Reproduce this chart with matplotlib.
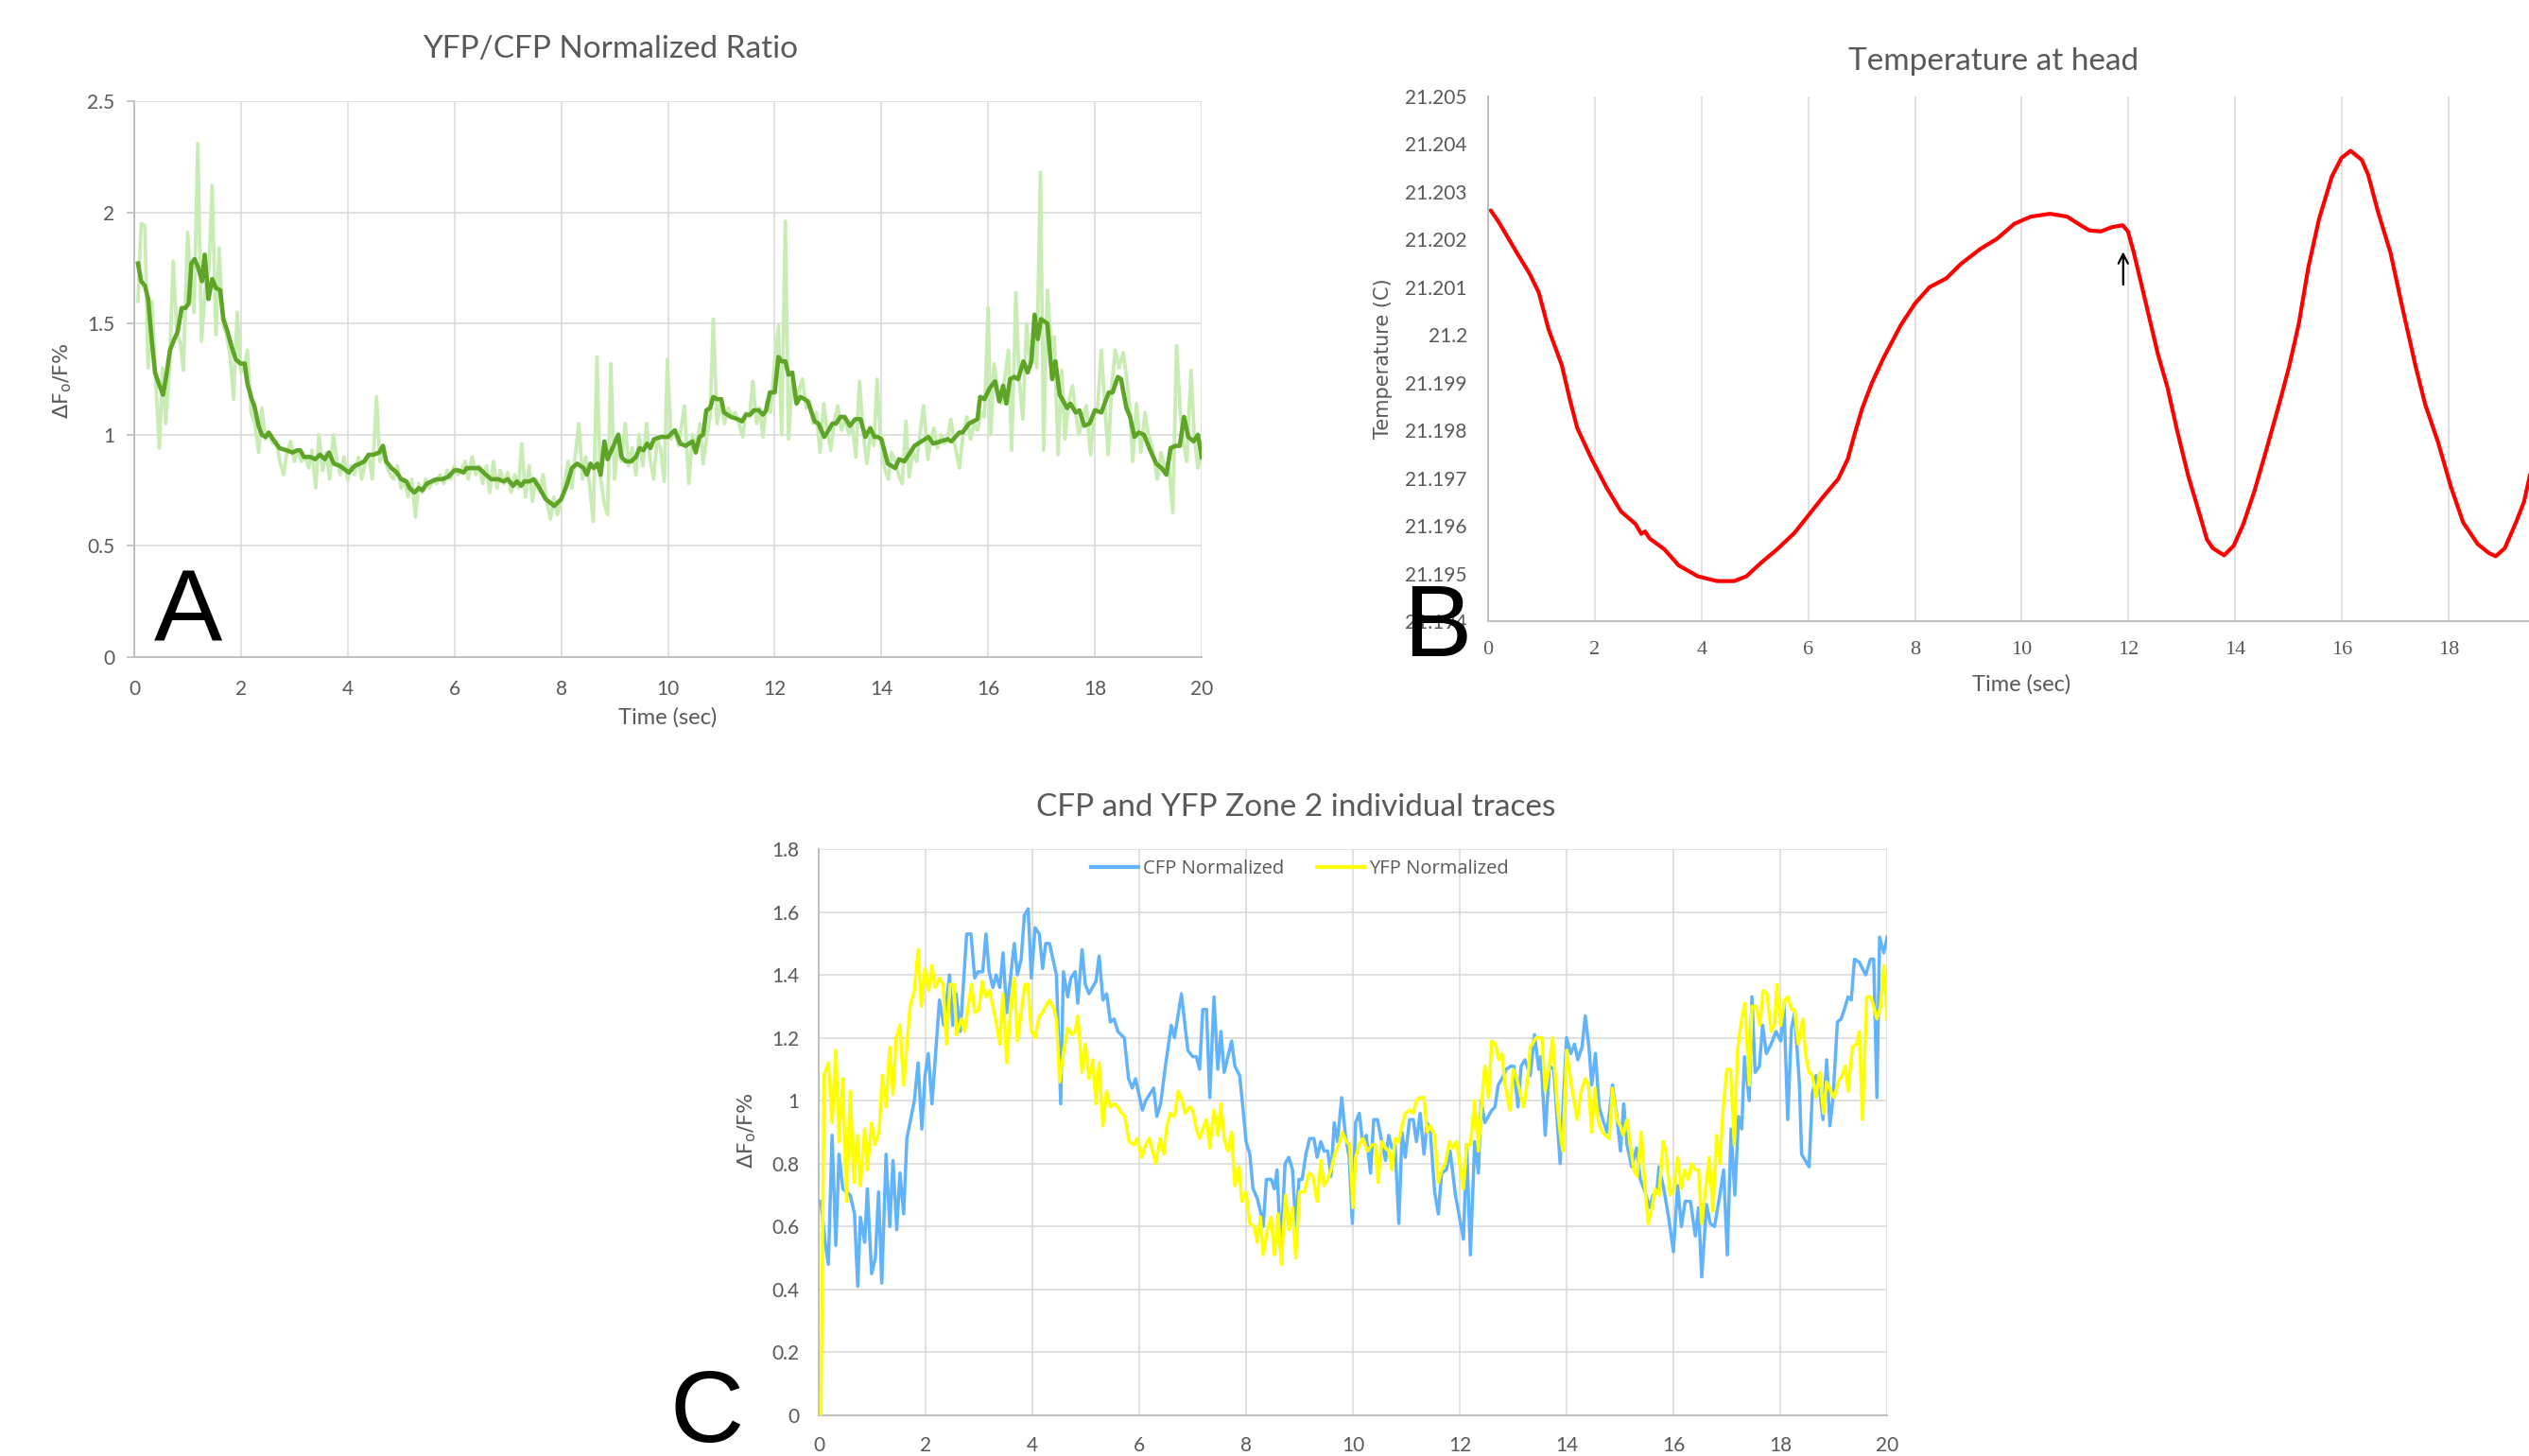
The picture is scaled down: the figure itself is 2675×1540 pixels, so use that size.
import matplotlib
matplotlib.use('Agg')
import matplotlib.pyplot as plt
from matplotlib.lines import Line2D

# ---------------- DATA ----------------
# Panel A: YFP/CFP normalized ratio (raw light trace and smoothed trace)
a_raw_t = [0.07,0.13,0.20,0.26,0.33,0.40,0.47,0.53,0.59,0.66,0.73,0.80,0.86,0.92,1.00,1.06,1.12,1.19,1.26,1.33,
           1.40,1.46,1.53,1.59,1.66,1.73,1.80,1.86,1.93,2.00,2.06,2.12,2.19,2.26,2.33,2.39,2.46,2.53,2.60,2.66,
           2.73,2.80,2.86,2.93,3.00,3.06,3.13,3.20,3.27,3.33,3.40,3.46,3.53,3.60,3.66,3.73,3.80,3.86,3.93,4.00,
           4.06,4.13,4.20,4.26,4.33,4.40,4.46,4.54,4.60,4.66,4.73,4.80,4.86,4.93,5.00,5.06,5.13,5.20,5.27,5.33,
           5.40,5.46,5.53,5.60,5.66,5.73,5.80,5.86,5.93,6.00,6.06,6.13,6.20,6.26,6.33,6.40,6.46,6.53,6.60,6.66,
           6.73,6.80,6.86,6.93,7.00,7.06,7.13,7.20,7.26,7.33,7.40,7.46,7.53,7.60,7.66,7.73,7.80,7.86,7.93,8.00,
           8.06,8.13,8.20,8.27,8.33,8.40,8.46,8.53,8.60,8.67,8.73,8.80,8.87,8.93,9.00,9.06,9.13,9.20,9.26,9.33,
           9.40,9.46,9.53,9.60,9.66,9.73,9.80,9.86,9.93,9.99,10.06,10.13,10.20,10.26,10.31,10.39,10.46,10.53,10.60,10.66,
           10.73,10.79,10.85,10.92,10.99,11.06,11.13,11.20,11.26,11.33,11.40,11.46,11.53,11.59,11.66,11.72,11.78,11.85,11.92,11.99,
           12.07,12.13,12.20,12.26,12.33,12.39,12.46,12.52,12.59,12.65,12.72,12.78,12.85,12.92,12.98,13.05,13.11,13.18,13.25,13.32,
           13.39,13.45,13.52,13.59,13.66,13.73,13.79,13.86,13.92,13.99,14.06,14.13,14.19,14.26,14.32,14.39,14.46,14.52,14.59,14.66,
           14.72,14.79,14.87,14.93,14.98,15.05,15.12,15.18,15.24,15.30,15.38,15.46,15.53,15.60,15.67,15.74,15.80,15.87,15.93,16.00,
           16.05,16.11,16.18,16.25,16.31,16.38,16.44,16.52,16.58,16.65,16.72,16.79,16.85,16.91,16.98,17.04,17.11,17.18,17.24,17.31,
           17.38,17.44,17.51,17.58,17.64,17.70,17.77,17.84,17.92,17.99,18.05,18.12,18.18,18.25,18.31,18.38,18.45,18.53,18.60,18.66,
           18.71,18.78,18.86,18.94,19.00,19.07,19.17,19.24,19.31,19.38,19.46,19.53,19.60,19.66,19.72,19.80,19.86,19.93,20.00]
a_raw_v = [1.60,1.95,1.94,1.30,1.60,1.25,0.94,1.30,1.05,1.30,1.78,1.45,1.42,1.29,1.91,1.70,1.55,2.31,1.42,1.65,
           1.75,2.12,1.45,1.84,1.50,1.45,1.35,1.16,1.55,1.28,1.30,1.38,1.10,1.05,0.92,1.12,0.98,1.00,0.96,0.97,
           0.88,0.82,0.92,0.97,0.88,0.93,0.88,0.90,0.85,0.93,0.76,1.00,0.84,0.92,0.80,1.00,0.88,0.82,0.90,0.80,
           0.86,0.82,0.90,0.80,0.88,0.90,0.80,1.17,0.88,0.92,0.86,0.82,0.80,0.86,0.76,0.80,0.72,0.80,0.63,0.78,
           0.74,0.80,0.76,0.80,0.78,0.82,0.78,0.84,0.80,0.86,0.82,0.84,0.88,0.80,0.90,0.82,0.86,0.78,0.86,0.74,
           0.88,0.76,0.84,0.78,0.83,0.74,0.82,0.76,0.96,0.72,0.86,0.70,0.80,0.74,0.82,0.70,0.62,0.72,0.64,0.72,
           0.78,0.88,0.76,0.92,1.05,0.80,0.90,0.78,0.61,1.35,0.82,0.70,0.64,1.32,0.80,0.96,0.88,1.05,0.86,0.94,
           0.82,1.00,0.86,1.05,0.90,0.80,0.98,0.94,0.79,1.34,0.98,1.02,0.95,1.05,1.13,0.78,1.00,0.94,1.05,0.87,
           1.00,1.08,1.52,1.05,1.15,1.05,1.12,1.08,1.10,1.05,0.99,1.10,1.08,1.24,1.05,1.12,0.99,1.15,1.10,1.30,
           1.49,1.00,1.96,0.98,1.25,1.15,1.20,1.25,1.12,1.15,1.05,1.10,0.92,1.14,1.02,0.93,1.05,1.13,1.02,1.08,
           1.00,1.05,0.90,1.24,1.00,0.87,1.00,0.95,1.25,0.96,0.85,0.80,0.92,0.88,0.82,0.78,1.06,0.81,0.92,0.88,
           1.00,1.13,0.89,0.98,1.03,0.94,1.00,0.96,0.98,1.07,0.95,0.85,1.00,1.08,0.98,1.05,1.02,1.10,1.08,1.57,
           1.00,1.32,1.20,1.14,1.25,1.38,0.93,1.64,1.25,1.07,1.50,1.30,1.42,1.30,2.18,0.93,1.65,1.40,1.44,0.91,
           1.29,0.98,1.15,1.22,1.10,1.00,1.08,1.13,0.91,1.10,1.12,1.38,1.15,0.91,1.20,1.38,1.30,1.37,1.25,1.10,
           0.88,1.14,0.92,1.10,1.00,0.95,0.80,0.92,0.85,0.88,0.65,1.40,1.10,0.96,0.88,1.29,1.00,0.85,0.92]

a_smooth_t = [0.07,0.13,0.20,0.26,0.33,0.39,0.46,0.54,0.59,0.67,0.75,0.81,0.89,0.96,1.02,1.07,1.13,1.20,1.27,1.32,
              1.39,1.46,1.53,1.61,1.67,1.74,1.82,1.90,1.99,2.07,2.12,2.20,2.25,2.33,2.39,2.46,2.52,2.60,2.72,2.85,
              2.97,3.05,3.11,3.18,3.30,3.39,3.48,3.57,3.65,3.74,3.85,3.91,4.02,4.13,4.23,4.31,4.39,4.48,4.59,4.66,
              4.72,4.82,4.92,5.00,5.10,5.16,5.25,5.33,5.40,5.48,5.57,5.67,5.77,5.88,6.00,6.07,6.17,6.23,6.33,6.46,
              6.59,6.69,6.82,6.92,7.00,7.10,7.17,7.25,7.31,7.41,7.48,7.57,7.71,7.87,8.00,8.10,8.20,8.30,8.42,8.48,
              8.55,8.61,8.68,8.74,8.81,8.87,9.07,9.13,9.21,9.31,9.40,9.47,9.54,9.61,9.67,9.74,9.87,10.00,10.13,10.23,
              10.33,10.46,10.52,10.59,10.66,10.72,10.79,10.85,10.92,11.00,11.05,11.18,11.31,11.39,11.46,11.54,11.61,11.70,11.78,11.84,
              11.91,12.00,12.07,12.13,12.20,12.26,12.33,12.41,12.48,12.56,12.62,12.75,12.82,12.93,13.01,13.08,13.15,13.23,13.31,13.41,
              13.51,13.61,13.70,13.79,13.87,13.93,14.00,14.12,14.26,14.33,14.43,14.54,14.62,14.75,14.88,14.97,15.11,15.24,15.31,15.46,
              15.52,15.64,15.72,15.80,15.85,15.93,16.03,16.13,16.21,16.28,16.34,16.41,16.49,16.56,16.66,16.74,16.81,16.87,16.93,16.99,
              17.11,17.20,17.26,17.34,17.48,17.54,17.64,17.71,17.80,17.90,18.00,18.12,18.26,18.33,18.43,18.49,18.59,18.66,18.74,18.82,
              18.92,19.02,19.15,19.25,19.34,19.42,19.51,19.59,19.67,19.75,19.85,19.93,20.00]
a_smooth_v = [1.77,1.69,1.67,1.61,1.42,1.28,1.23,1.18,1.25,1.38,1.43,1.46,1.57,1.57,1.59,1.77,1.79,1.75,1.69,1.81,
              1.61,1.70,1.66,1.65,1.52,1.47,1.40,1.34,1.32,1.32,1.23,1.16,1.13,1.04,1.00,0.99,1.01,0.98,0.94,0.93,
              0.92,0.93,0.93,0.90,0.90,0.89,0.91,0.89,0.92,0.87,0.86,0.85,0.83,0.86,0.87,0.88,0.91,0.91,0.92,0.95,
              0.88,0.85,0.83,0.80,0.79,0.76,0.74,0.76,0.75,0.78,0.79,0.80,0.80,0.81,0.84,0.84,0.83,0.85,0.85,0.85,
              0.82,0.80,0.80,0.79,0.80,0.77,0.79,0.77,0.79,0.79,0.80,0.77,0.71,0.68,0.71,0.77,0.85,0.87,0.85,0.82,
              0.87,0.85,0.87,0.82,0.97,0.89,1.00,0.90,0.88,0.88,0.90,0.94,0.93,0.96,0.94,0.98,0.99,0.99,1.02,0.96,
              0.95,0.97,0.92,0.99,1.00,1.11,1.12,1.17,1.16,1.16,1.10,1.08,1.07,1.06,1.09,1.09,1.11,1.11,1.09,1.11,
              1.19,1.19,1.35,1.33,1.33,1.27,1.28,1.14,1.17,1.16,1.15,1.06,1.05,0.99,1.02,1.05,1.05,1.08,1.08,1.04,
              1.07,1.07,0.99,1.03,0.99,0.99,0.98,0.87,0.85,0.89,0.88,0.92,0.95,0.97,0.99,0.96,0.97,0.98,0.97,1.01,
              1.01,1.05,1.06,1.07,1.17,1.16,1.21,1.24,1.15,1.22,1.14,1.25,1.26,1.25,1.33,1.28,1.33,1.54,1.43,1.52,
              1.50,1.25,1.33,1.18,1.12,1.14,1.10,1.11,1.04,1.05,1.11,1.10,1.19,1.19,1.26,1.25,1.12,1.08,0.99,1.01,
              1.00,0.94,0.87,0.85,0.82,0.94,0.95,0.95,1.08,0.99,0.97,1.00,0.90]

# Panel B: temperature at head
b_t = [0.05,0.18,0.32,0.54,0.77,0.95,1.13,1.38,1.54,1.67,1.94,2.22,2.49,2.76,2.87,2.94,3.03,3.30,3.57,3.93,
       4.29,4.61,4.84,5.11,5.42,5.74,6.01,6.28,6.56,6.74,6.87,7.01,7.19,7.41,7.73,8.00,8.27,8.59,8.86,9.22,
       9.54,9.86,10.17,10.53,10.85,11.10,11.27,11.48,11.69,11.89,11.99,12.10,12.25,12.40,12.55,12.73,12.91,13.12,13.33,13.47,
       13.58,13.79,13.97,14.15,14.36,14.60,14.83,15.01,15.19,15.37,15.57,15.81,15.99,16.16,16.37,16.49,16.67,16.91,17.14,17.38,
       17.56,17.80,18.04,18.27,18.54,18.75,18.88,19.05,19.26,19.41,19.50,19.60]
b_temp = [21.20261,21.20240,21.20214,21.20172,21.20130,21.20089,21.20013,21.19937,21.19861,21.19805,
          21.19740,21.19680,21.19630,21.19604,21.19583,21.19588,21.19573,21.19551,21.19517,21.19494,
          21.19484,21.19484,21.19494,21.19522,21.19551,21.19585,21.19623,21.19661,21.19698,21.19740,
          21.19793,21.19846,21.19899,21.19952,21.20020,21.20066,21.20100,21.20119,21.20149,21.20180,
          21.20202,21.20233,21.20248,21.20254,21.20248,21.20230,21.20219,21.20217,21.20226,21.20230,
          21.20217,21.20172,21.20102,21.20031,21.19960,21.19890,21.19800,21.19704,21.19625,21.19571,
          21.19553,21.19538,21.19558,21.19603,21.19673,21.19766,21.19858,21.19934,21.20023,21.20142,
          21.20243,21.20332,21.20371,21.20386,21.20367,21.20336,21.20260,21.20172,21.20053,21.19934,
          21.19854,21.19775,21.19682,21.19607,21.19562,21.19543,21.19536,21.19553,21.19607,21.19650,
          21.19695,21.19750]
b_xticks = [0, 2, 4, 6, 8, 10, 12, 14, 16, 18]
b_ticks = [21.194,21.195,21.196,21.197,21.198,21.199,21.2,21.201,21.202,21.203,21.204,21.205]
b_ticklabels = ['21.194','21.195','21.196','21.197','21.198','21.199','21.2','21.201','21.202','21.203','21.204','21.205']
b_arrow_t = 11.9
b_arrow_from = 21.2010
b_arrow_to = 21.2018

# Panel C: CFP and YFP zone 2 individual traces
c_cfp_t = [0.04,0.12,0.18,0.25,0.32,0.38,0.45,0.59,0.67,0.73,0.78,0.86,0.91,0.99,1.06,1.12,1.18,1.26,1.33,1.39,
           1.46,1.52,1.59,1.65,1.79,1.86,1.93,1.99,2.05,2.12,2.18,2.26,2.34,2.45,2.51,2.57,2.65,2.77,2.85,2.92,
           2.98,3.07,3.13,3.19,3.26,3.32,3.39,3.45,3.52,3.66,3.72,3.79,3.85,3.92,3.98,4.05,4.13,4.19,4.25,4.32,
           4.45,4.53,4.58,4.66,4.72,4.80,4.85,4.93,4.99,5.06,5.19,5.25,5.32,5.39,5.46,5.53,5.60,5.72,5.80,5.87,
           5.93,6.06,6.12,6.27,6.33,6.40,6.49,6.60,6.66,6.79,6.91,7.00,7.07,7.13,7.19,7.26,7.32,7.40,7.47,7.53,
           7.59,7.73,7.79,7.88,7.94,8.00,8.07,8.13,8.21,8.28,8.32,8.38,8.47,8.53,8.58,8.65,8.73,8.80,8.87,8.93,
           8.99,9.05,9.12,9.19,9.27,9.33,9.40,9.46,9.53,9.59,9.65,9.71,9.79,9.86,9.93,9.99,10.05,10.12,10.18,10.25,
           10.33,10.39,10.46,10.54,10.61,10.67,10.73,10.79,10.86,10.92,10.98,11.06,11.13,11.19,11.26,11.33,11.39,11.45,11.53,11.60,
           11.66,11.75,11.82,11.92,12.07,12.13,12.20,12.28,12.35,12.40,12.47,12.60,12.66,12.72,12.79,12.87,12.96,13.01,13.09,13.15,
           13.22,13.32,13.40,13.48,13.52,13.60,13.68,13.76,13.88,14.00,14.08,14.15,14.21,14.29,14.35,14.42,14.47,14.54,14.61,14.68,
           14.76,14.86,14.94,15.01,15.07,15.13,15.22,15.31,15.38,15.47,15.55,15.62,15.69,15.73,15.82,15.91,16.00,16.08,16.15,16.22,
           16.32,16.41,16.47,16.53,16.62,16.69,16.77,16.86,16.94,17.01,17.08,17.15,17.22,17.28,17.33,17.42,17.47,17.53,17.61,17.67,
           17.74,17.83,17.92,18.01,18.07,18.14,18.21,18.27,18.36,18.40,18.54,18.60,18.67,18.75,18.80,18.87,18.93,18.99,19.07,19.14,
           19.20,19.27,19.33,19.39,19.48,19.60,19.69,19.75,19.81,19.86,19.94,20.00]
c_cfp_v = [0.68,0.55,0.48,0.89,0.54,0.83,0.72,0.70,0.64,0.41,0.63,0.55,0.72,0.45,0.50,0.71,0.42,0.83,0.60,0.81,
           0.59,0.77,0.64,0.88,1.00,1.12,0.91,1.08,1.15,0.99,1.13,1.32,1.24,1.40,1.24,1.34,1.22,1.53,1.53,1.39,
           1.41,1.41,1.53,1.41,1.36,1.40,1.36,1.47,1.28,1.50,1.40,1.45,1.59,1.61,1.39,1.55,1.53,1.42,1.50,1.50,
           1.40,0.99,1.41,1.33,1.39,1.41,1.31,1.48,1.37,1.34,1.38,1.46,1.32,1.34,1.25,1.26,1.22,1.20,1.07,1.04,
           1.07,0.97,1.00,1.04,0.95,0.99,1.11,1.24,1.20,1.34,1.16,1.14,1.14,1.10,1.29,1.29,1.01,1.33,1.10,1.22,
           1.09,1.19,1.11,1.08,0.98,0.87,0.83,0.72,0.69,0.64,0.60,0.75,0.75,0.72,0.78,0.52,0.80,0.82,0.78,0.60,
           0.75,0.75,0.83,0.88,0.88,0.82,0.87,0.84,0.84,0.76,0.93,0.87,1.01,0.89,0.82,0.61,0.93,0.96,0.87,0.89,
           0.77,0.94,0.94,0.87,0.81,0.89,0.85,0.86,0.61,0.90,0.82,0.94,0.94,0.87,0.96,0.83,0.93,0.90,0.71,0.64,
           0.77,0.78,0.84,0.70,0.56,0.86,0.51,0.87,0.77,1.00,0.93,0.97,0.98,1.05,1.07,1.10,1.11,1.11,0.98,1.11,
           1.13,1.08,1.21,1.10,1.14,0.89,1.11,1.10,0.80,1.20,1.15,1.18,1.13,1.17,1.27,1.17,1.05,1.15,0.98,0.94,
           0.90,1.05,0.95,0.84,0.99,0.86,0.79,0.85,0.75,0.71,0.66,0.70,0.71,0.79,0.72,0.63,0.52,0.73,0.60,0.68,
           0.68,0.57,0.66,0.44,0.67,0.61,0.60,0.69,0.78,0.51,0.91,0.70,0.95,0.91,1.14,1.00,1.33,1.09,1.11,1.24,
           1.15,1.18,1.22,1.19,1.31,0.94,1.23,1.28,1.05,0.83,0.79,1.02,1.08,1.02,0.94,1.13,0.92,1.01,1.25,1.26,
           1.29,1.33,1.32,1.45,1.44,1.40,1.45,1.45,1.01,1.52,1.47,1.52]

c_yfp_t = [0.04,0.10,0.18,0.25,0.32,0.38,0.45,0.52,0.59,0.66,0.72,0.78,0.86,0.91,0.99,1.05,1.13,1.19,1.26,1.33,
           1.39,1.45,1.52,1.59,1.71,1.79,1.86,1.92,1.99,2.06,2.12,2.18,2.26,2.33,2.39,2.46,2.53,2.58,2.67,2.73,
           2.86,2.92,3.00,3.06,3.13,3.20,3.32,3.39,3.45,3.52,3.60,3.66,3.72,3.79,3.86,3.92,3.98,4.05,4.13,4.19,
           4.25,4.32,4.41,4.45,4.51,4.58,4.66,4.74,4.80,4.85,4.93,4.99,5.06,5.13,5.19,5.25,5.32,5.39,5.46,5.53,
           5.60,5.67,5.73,5.81,5.90,5.96,6.05,6.12,6.19,6.25,6.31,6.39,6.46,6.52,6.58,6.66,6.73,6.79,6.86,6.94,
           7.00,7.07,7.13,7.19,7.26,7.32,7.40,7.47,7.53,7.59,7.66,7.73,7.79,7.87,7.92,8.00,8.07,8.15,8.21,8.27,
           8.32,8.40,8.47,8.53,8.60,8.66,8.74,8.80,8.87,8.93,9.00,9.09,9.18,9.25,9.33,9.40,9.46,9.53,9.59,9.66,
           9.74,9.80,9.88,9.94,10.00,10.05,10.12,10.19,10.27,10.36,10.42,10.47,10.54,10.61,10.67,10.73,10.79,10.86,10.92,10.98,
           11.06,11.13,11.19,11.26,11.33,11.39,11.45,11.53,11.60,11.66,11.73,11.81,11.87,11.94,12.01,12.07,12.13,12.20,12.28,12.35,
           12.41,12.47,12.54,12.60,12.67,12.73,12.79,12.85,12.94,13.00,13.07,13.15,13.20,13.28,13.32,13.43,13.54,13.60,13.67,13.74,
           13.82,13.88,13.93,14.00,14.08,14.20,14.27,14.35,14.41,14.47,14.53,14.60,14.67,14.73,14.80,14.86,14.94,15.01,15.06,15.13,
           15.20,15.26,15.32,15.40,15.47,15.53,15.60,15.66,15.73,15.81,15.86,15.94,16.01,16.08,16.15,16.21,16.28,16.34,16.41,16.47,
           16.53,16.59,16.67,16.74,16.81,16.87,16.93,17.00,17.07,17.14,17.20,17.27,17.34,17.42,17.47,17.55,17.62,17.68,17.75,17.83,
           17.89,17.94,18.01,18.08,18.14,18.21,18.27,18.34,18.42,18.48,18.54,18.60,18.67,18.74,18.81,18.87,18.95,19.01,19.09,19.16,
           19.22,19.27,19.35,19.43,19.48,19.54,19.62,19.69,19.75,19.81,19.88,19.94,20.00]
c_yfp_v = [0.00,1.08,1.12,0.93,1.16,0.87,1.07,0.68,1.03,0.74,0.89,0.73,0.91,0.78,0.93,0.86,0.90,1.08,0.98,1.17,
           1.02,1.20,1.24,1.05,1.30,1.35,1.48,1.30,1.42,1.35,1.43,1.36,1.39,1.37,1.18,1.37,1.37,1.21,1.26,1.22,
           1.37,1.28,1.29,1.38,1.33,1.35,1.25,1.18,1.34,1.12,1.31,1.39,1.19,1.28,1.37,1.37,1.22,1.20,1.27,1.28,
           1.30,1.32,1.29,1.26,1.06,1.15,1.23,1.21,1.22,1.27,1.09,1.18,1.07,1.13,0.99,1.12,0.92,1.03,0.98,0.99,
           0.98,0.96,0.95,0.87,0.86,0.88,0.82,0.86,0.88,0.84,0.80,0.88,0.83,0.92,0.96,0.95,1.03,1.01,0.96,0.98,
           0.97,0.91,0.88,0.91,0.94,0.85,0.97,0.89,0.99,0.88,0.84,0.90,0.73,0.79,0.68,0.71,0.61,0.60,0.55,0.63,
           0.51,0.59,0.63,0.51,0.64,0.48,0.70,0.59,0.66,0.50,0.71,0.71,0.77,0.76,0.68,0.81,0.73,0.75,0.78,0.83,
           0.86,0.90,0.87,0.86,0.66,0.82,0.86,0.88,0.84,0.86,0.86,0.74,0.87,0.85,0.84,0.78,0.88,0.87,0.92,0.96,
           0.97,0.96,1.00,1.01,1.01,0.90,0.92,0.89,0.74,0.78,0.80,0.87,0.85,0.87,0.79,0.72,0.86,0.86,1.00,0.84,
           0.99,1.11,1.01,1.19,1.18,1.13,1.15,1.05,0.97,1.10,1.07,1.01,0.98,1.08,1.17,1.20,1.20,1.03,1.10,1.20,
           1.00,0.90,0.84,1.16,1.06,0.94,1.03,1.07,1.05,0.90,1.04,0.93,0.90,0.89,0.88,1.04,0.94,0.92,0.89,0.94,
           0.85,0.78,0.76,0.90,0.72,0.61,0.66,0.72,0.70,0.87,0.84,0.70,0.72,0.82,0.72,0.78,0.75,0.80,0.78,0.78,
           0.61,0.70,0.82,0.65,0.89,0.80,0.97,1.10,1.10,0.86,1.16,1.25,1.31,1.05,1.30,1.30,1.24,1.35,1.34,1.22,
           1.24,1.37,1.24,1.32,1.33,1.29,1.29,1.18,1.26,1.14,1.09,1.08,1.01,1.09,0.96,1.06,1.03,1.01,1.06,1.08,
           1.11,1.03,1.17,1.18,1.22,0.94,1.33,1.33,1.30,1.26,1.30,1.43,1.26]

x_ticks = [0, 2, 4, 6, 8, 10, 12, 14, 16, 18, 20]
a_yticks = [0, 0.5, 1, 1.5, 2, 2.5]
a_ytlabels = ['0', '0.5', '1', '1.5', '2', '2.5']
c_yticks = [0, 0.2, 0.4, 0.6, 0.8, 1.0, 1.2, 1.4, 1.6, 1.8]
c_ytlabels = ['0', '0.2', '0.4', '0.6', '0.8', '1', '1.2', '1.4', '1.6', '1.8']

# ---------------- FIGURE ----------------
W, H = 2675, 1540
DPI = 100
fig = plt.figure(figsize=(W / DPI, H / DPI), dpi=DPI)
fig.patch.set_facecolor('white')

def fx(px):
    return px / W

def fy(py):
    return 1 - py / H

def axes_px(left, top, right, bottom):
    return fig.add_axes([fx(left), fy(bottom), (right - left) / W, (bottom - top) / H])

SANS = 'Lato'
GRAY = '#595959'
GRID = '#d9d9d9'
SPINE = '#bfbfbf'
YLBL_FONT = 'DejaVu Sans'

def base_style(ax, hgrid=True):
    ax.set_facecolor('none')
    for s in ['top', 'right']:
        ax.spines[s].set_visible(False)
    for s in ['left', 'bottom']:
        ax.spines[s].set_color(SPINE)
        ax.spines[s].set_linewidth(1.4)
    ax.grid(True, axis='x', color=GRID, lw=1.1)
    if hgrid:
        ax.grid(True, axis='y', color=GRID, lw=1.1)
    ax.set_axisbelow(True)

# ---------- Panel A ----------
axA = axes_px(142, 107, 1271, 695)
base_style(axA)
axA.plot(a_raw_t, a_raw_v, color='#c8ecb3', lw=2.7, solid_joinstyle='round', zorder=2)
axA.plot(a_smooth_t, a_smooth_v, color='#5ea427', lw=3.3, solid_joinstyle='round', zorder=3)
axA.set_xlim(0, 20)
axA.set_ylim(0, 2.5)
axA.set_xticks(x_ticks)
axA.set_xticklabels([str(v) for v in x_ticks], fontfamily=SANS, fontsize=15, color=GRAY)
axA.set_yticks(a_yticks)
axA.set_yticklabels(a_ytlabels, fontfamily=SANS, fontsize=15, color=GRAY)
axA.tick_params(axis='y', length=6, width=1.2, color=SPINE, pad=9)
axA.tick_params(axis='x', length=0, pad=17)

fig.text(fx(646), fy(52), 'YFP/CFP Normalized Ratio', ha='center', va='center',
         fontfamily=SANS, fontsize=24, color=GRAY)
fig.text(fx(706), fy(759), 'Time (sec)', ha='center', va='center',
         fontfamily=SANS, fontsize=17, color=GRAY)
fig.text(fx(66), fy(403), r'$\Delta$F$_\mathrm{o}$/F%', ha='center', va='center', rotation=90,
         fontfamily=YLBL_FONT, fontsize=16, color=GRAY)
fig.text(fx(163), fy(678), 'A', ha='left', va='baseline', fontfamily='Liberation Sans',
         fontsize=78, color='black', zorder=10)

# ---------- Panel B ----------
axB = axes_px(1574, 102, 2703, 657)
base_style(axB, hgrid=False)
axB.plot(b_t, b_temp, color='#ff0000', lw=3.0, solid_joinstyle='round', solid_capstyle='round', zorder=3)
axB.set_xlim(0, 20)
axB.set_ylim(21.194, 21.205)
axB.set_xticks(b_xticks)
axB.set_xticklabels([str(v) for v in b_xticks], fontfamily='Liberation Serif', fontsize=16, color=GRAY)
axB.set_yticks(b_ticks)
axB.set_yticklabels(b_ticklabels, fontfamily=SANS, fontsize=15, color=GRAY)
axB.tick_params(axis='both', length=0)
axB.tick_params(axis='y', pad=16)
axB.tick_params(axis='x', pad=15)
axB.annotate('', xy=(b_arrow_t, b_arrow_to), xytext=(b_arrow_t, b_arrow_from),
             arrowprops=dict(arrowstyle='->', color='black', lw=1.6, mutation_scale=18))

fig.text(fx(2109), fy(65), 'Temperature at head', ha='center', va='center',
         fontfamily=SANS, fontsize=24, color=GRAY)
fig.text(fx(2138), fy(724), 'Time (sec)', ha='center', va='center',
         fontfamily=SANS, fontsize=17, color=GRAY)
fig.text(fx(1463), fy(379), 'Temperature (C)', ha='center', va='center', rotation=90,
         fontfamily=YLBL_FONT, fontsize=15, color=GRAY)
fig.text(fx(1484), fy(694), 'B', ha='left', va='baseline', fontfamily='Liberation Sans',
         fontsize=78, color='black', zorder=10)

# ---------- Panel C ----------
axC = axes_px(866, 898, 1996, 1497)
base_style(axC)
axC.plot(c_cfp_t, c_cfp_v, color='#61b3fb', lw=2.5, solid_joinstyle='round', zorder=3)
axC.plot(c_yfp_t, c_yfp_v, color='#ffff00', lw=2.5, solid_joinstyle='round', zorder=4)
axC.set_xlim(0, 20)
axC.set_ylim(0, 1.8)
axC.set_xticks(x_ticks)
axC.set_xticklabels([str(v) for v in x_ticks], fontfamily=SANS, fontsize=15, color=GRAY)
axC.set_yticks(c_yticks)
axC.set_yticklabels(c_ytlabels, fontfamily=SANS, fontsize=15, color=GRAY)
axC.tick_params(axis='both', length=0)
axC.tick_params(axis='y', pad=15)
axC.tick_params(axis='x', pad=16)

handles = [Line2D([0], [0], color='#61b3fb', lw=3),
           Line2D([0], [0], color='#ffff00', lw=3)]
leg = axC.legend(handles, ['CFP Normalized', 'YFP Normalized'], loc='center',
                 bbox_to_anchor=(fx(1375), fy(919)), bbox_transform=fig.transFigure,
                 ncol=2, frameon=False, handlelength=2.5, handletextpad=0.25,
                 columnspacing=1.7, prop={'family': 'Open Sans', 'size': 14.5})
for t in leg.get_texts():
    t.set_color(GRAY)

fig.text(fx(1371), fy(854), 'CFP and YFP Zone 2 individual traces', ha='center', va='center',
         fontfamily=SANS, fontsize=24, color=GRAY)
fig.text(fx(790), fy(1196), r'$\Delta$F$_\mathrm{o}$/F%', ha='center', va='center', rotation=90,
         fontfamily=YLBL_FONT, fontsize=16, color=GRAY)
fig.text(fx(708), fy(1525), 'C', ha='left', va='baseline', fontfamily='Liberation Sans',
         fontsize=78, color='black', zorder=10)

fig.savefig('out.png', dpi=DPI, facecolor='white')
